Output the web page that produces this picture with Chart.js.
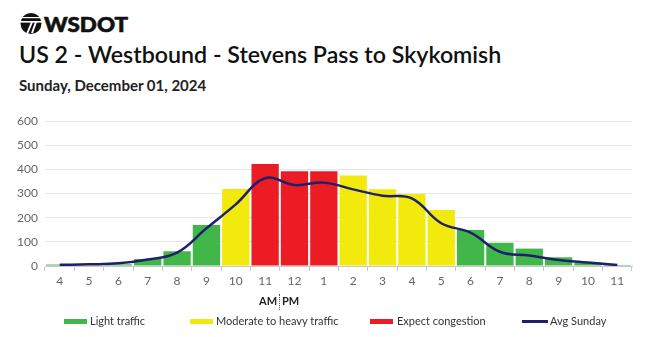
<!DOCTYPE html>
<html>
<head>
<meta charset="utf-8">
<script src="https://cdn.jsdelivr.net/npm/chart.js@4"></script>
<style>
  html, body { margin:0; padding:0; background:#fff; }
  body { width:650px; height:337px; position:relative; overflow:hidden; font-family: Lato, "Open Sans", sans-serif; }
  #chartWrap { position:absolute; left:0; top:0; width:650px; height:337px; }
  .abs { position:absolute; white-space:nowrap; }
  #logoText { left:44px; top:12px; font-size:20px; font-weight:900; color:#111; letter-spacing:0px; line-height:24px; transform:scaleX(1.12); transform-origin:left center; -webkit-text-stroke:0.6px #111; }
  #title { left:19px; top:39px; font-size:23.2px; font-weight:600; color:#111; line-height:30px; }
  #subtitle { left:19px; top:75px; font-size:15px; font-weight:700; color:#222; line-height:20px; }
  #ampm { left:259px; top:294px; font-size:11px; font-weight:700; color:#222; line-height:14px; }
  #ampm span.sep { display:inline-block; width:0; height:16px; border-left:1px dotted #555; vertical-align:middle; margin:0 2px; }
  .leg { position:absolute; top:314px; font-size:11px; color:#333; line-height:14px; }
  .sw { position:absolute; width:23px; height:5px; }
</style>
</head>
<body>
<svg class="abs" style="left:19px;top:12px" width="25" height="23" viewBox="0 0 25 23">
  <circle cx="12" cy="11.5" r="10.5" fill="#111"/>
  <rect x="1" y="9" width="22" height="1.6" fill="#fff"/>
  <rect x="1" y="5" width="22" height="1.2" fill="#fff"/>
  <polygon points="12,10 14,10 9,22 7,22" fill="#fff"/>
  <polygon points="16,10 18,10 14,21 12,21" fill="#fff"/>
</svg>
<div id="logoText" class="abs">WSDOT</div>
<div id="title" class="abs">US 2 - Westbound - Stevens Pass to Skykomish</div>
<div id="subtitle" class="abs">Sunday, December 01, 2024</div>
<div id="chartWrap"><canvas id="c" width="650" height="337"></canvas></div>
<div id="ampm" class="abs">AM<span class="sep"></span>PM</div>
<div id="legend"></div>
<script>
// ---- data ----
const hours = ['4','5','6','7','8','9','10','11','12','1','2','3','4','5','6','7','8','9','10','11'];
const volumes = [6, 3, 7, 29, 61, 170, 319, 422, 392, 392, 375, 318, 298, 232, 149, 96, 72, 36, 14, 4];
const levels = ['light','light','light','light','light','light','moderate','congestion','congestion','congestion','moderate','moderate','moderate','moderate','light','light','light','light','light','light'];
const avgSunday = [5, 7, 11, 27, 55, 156, 255, 363, 335, 345, 317, 291, 280, 177, 138, 59, 43, 25, 14, 4];
const yTicks = [0, 100, 200, 300, 400, 500, 600];
const legendLabels = ['Light traffic', 'Moderate to heavy traffic', 'Expect congestion', 'Avg Sunday'];

const colors = { light:'#41b649', moderate:'#f2ea0c', congestion:'#ec1c24', line:'#1f206b' };

// legend (HTML)
const legPos = [[64,90],[190,216],[370,397],[522,550]];
const legCols = [colors.light, colors.moderate, colors.congestion, colors.line];
const legEl = document.getElementById('legend');
legendLabels.forEach((t,i)=>{
  const sw = document.createElement('div');
  sw.className='sw';
  sw.style.left = legPos[i][0]+'px';
  sw.style.background = legCols[i];
  if (i===3) { sw.style.height='3px'; sw.style.top='320px'; sw.style.width='26px'; }
  else { sw.style.top='319px'; }
  legEl.appendChild(sw);
  const tx = document.createElement('div');
  tx.className='leg';
  tx.style.left = legPos[i][1]+'px';
  tx.textContent = t;
  legEl.appendChild(tx);
});

new Chart(document.getElementById('c'), {
  data: {
    labels: hours,
    datasets: [
      {
        type:'line', label:'Avg Sunday', data: avgSunday,
        borderColor: colors.line, borderWidth: 2.5, pointRadius: 0, tension: 0.4, fill:false, order: 0
      },
      {
        type:'bar', label:'Volume', data: volumes,
        backgroundColor: levels.map(l=>colors[l]),
        borderWidth: 0, barPercentage: 0.93, categoryPercentage: 1.0, order: 1
      }
    ]
  },
  options: {
    responsive:false, animation:false,
    layout: { padding: { top:121, left:0, right:18, bottom:0 } },
    plugins: { legend:{display:false}, tooltip:{enabled:false}, title:{display:false} },
    scales: {
      x: {
        grid: { display:true, drawOnChartArea:false, drawTicks:true, tickLength:5, color:'#c8c8c8', offset:true },
        border: { display:true, color:'#c8c8c8' },
        ticks: { color:'#666', font:{ family:'Lato', size:12 }, padding:3, maxRotation:0, autoSkip:false },
        afterFit: s => { s.height = 71; }
      },
      y: {
        min:0, max:600,
        afterBuildTicks: s => { s.ticks = yTicks.map(v=>({value:v})); },
        grid: { color:'#e6e6e6', drawTicks:false },
        border: { display:false },
        ticks: { color:'#666', font:{ family:'Lato', size:12 }, padding:7 },
        afterFit: s => { s.width = 45; }
      }
    }
  }
});
</script>
</body>
</html>
